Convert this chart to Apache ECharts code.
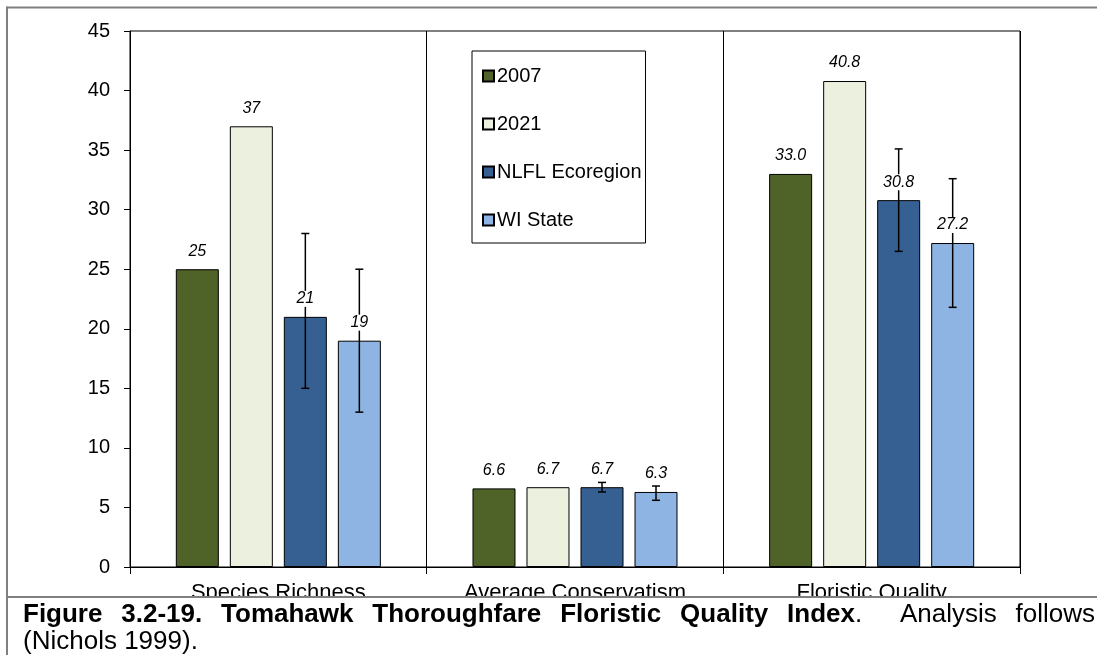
<!DOCTYPE html>
<html>
<head>
<meta charset="utf-8">
<script src="https://cdn.jsdelivr.net/npm/echarts@6/dist/echarts.min.js"></script>
<style>
  html, body { margin: 0; padding: 0; background: #fff; }
  #chart { width: 1101px; height: 655px; }
</style>
</head>
<body>
<div id="chart"></div>
<script>
// ---------- data ----------
const categories = ['Species Richness', 'Average Conservatism', 'Floristic Quality'];
const seriesNames = ['2007', '2021', 'NLFL Ecoregion', 'WI State'];
const values2007 = [25, 6.6, 33.0];
const values2021 = [37, 6.7, 40.8];
const valuesNLFL = [21, 6.7, 30.8];
const valuesWI = [19, 6.3, 27.2];
const errLowNLFL = [15, 6.3, 26.5];
const errHighNLFL = [28, 7.1, 35.1];
const errLowWI = [13, 5.6, 21.8];
const errHighWI = [25, 6.8, 32.6];
const labelDecimals = [0, 1, 1];
const yMin = 0, yMax = 45, yInterval = 5;
const captionLine1 = [
  { t: 'Figure', b: true, gap: 1 },
  { t: '3.2-19.', b: true, gap: 1 },
  { t: 'Tomahawk', b: true, gap: 1 },
  { t: 'Thoroughfare', b: true, gap: 1 },
  { t: 'Floristic', b: true, gap: 1 },
  { t: 'Quality', b: true, gap: 1 },
  { t: 'Index', b: true, gap: 0 },
  { t: '.', b: false, gap: 2 },
  { t: 'Analysis', b: false, gap: 1 },
  { t: 'follows', b: false, gap: 0 }
];
const captionLine2 = '(Nichols 1999).';

// ---------- styles ----------
const FONT = '"Liberation Sans", Arial, sans-serif';
const colors = ['#4F6228', '#EBF1DE', '#376092', '#8EB4E3'];
const BAR_W = 43;
const BAR_GAP = '25.6%';
const allValues = [values2007, values2021, valuesNLFL, valuesWI];

const chart = echarts.init(document.getElementById('chart'), null, { renderer: 'canvas' });

function barOffset(api, s) {
  try {
    const lay = api.barLayout({ count: 4, barWidth: BAR_W, barGap: BAR_GAP });
    if (lay && lay[s]) return lay[s].offsetCenter;
  } catch (e) {}
  return (s - 1.5) * (BAR_W * 1.256);
}

function errSeries(name, s, low, high) {
  return {
    type: 'custom',
    name: name,
    z: 3,
    silent: true,
    encode: { x: 0, y: [1, 2] },
    data: categories.map((c, i) => [i, low[i], high[i]]),
    renderItem: function (params, api) {
      const ci = api.value(0);
      const pH = api.coord([ci, api.value(2)]);
      const pL = api.coord([ci, api.value(1)]);
      const x = pH[0] + barOffset(api, s);
      const cap = 4;
      const st = { stroke: '#000', lineWidth: 1.5 };
      return {
        type: 'group',
        children: [
          { type: 'line', shape: { x1: x, y1: pH[1], x2: x, y2: pL[1] }, style: st },
          { type: 'line', shape: { x1: x - cap, y1: pH[1], x2: x + cap, y2: pH[1] }, style: st },
          { type: 'line', shape: { x1: x - cap, y1: pL[1], x2: x + cap, y2: pL[1] }, style: st }
        ]
      };
    }
  };
}

const labelData = [];
allValues.forEach((arr, s) => arr.forEach((v, i) => labelData.push([i, v, s])));

const series = seriesNames.map((n, s) => ({
  type: 'bar',
  name: n,
  z: 2,
  barWidth: BAR_W,
  barGap: BAR_GAP,
  itemStyle: { color: colors[s], borderColor: '#000', borderWidth: 1 },
  data: allValues[s]
}));
series.push(errSeries('errNLFL', 2, errLowNLFL, errHighNLFL));
series.push(errSeries('errWI', 3, errLowWI, errHighWI));
series.push({
  type: 'custom',
  name: 'labels',
  z: 4,
  silent: true,
  encode: { x: 0, y: 1 },
  data: labelData,
  renderItem: function (params, api) {
    const ci = api.value(0);
    const v = api.value(1);
    const s = api.value(2);
    const p = api.coord([ci, v]);
    return {
      type: 'text',
      x: p[0] + barOffset(api, s),
      y: p[1] - 10,
      style: {
        text: v.toFixed(labelDecimals[ci]),
        font: 'italic 16px ' + FONT,
        fill: '#000',
        align: 'center',
        verticalAlign: 'bottom',
        backgroundColor: '#fff',
        padding: [0, 2]
      }
    };
  }
});

// ---------- caption layout (justified) ----------
const cv = document.createElement('canvas').getContext('2d');
const capSize = 26;
const capLeft = 23, capRight = 1095;
function fontOf(b) { return (b ? 'bold ' : '') + capSize + 'px ' + FONT; }
let sumW = 0, sumGap = 0;
captionLine1.forEach(w => {
  cv.font = fontOf(w.b);
  w.w = cv.measureText(w.t).width;
  sumW += w.w;
  sumGap += w.gap;
});
const unit = (capRight - capLeft - sumW) / sumGap;
let cx = capLeft;
const captionGraphics = [];
captionLine1.forEach(w => {
  captionGraphics.push({
    type: 'text', x: cx, y: 602, z: 101,
    style: { text: w.t, font: fontOf(w.b), fill: '#000', align: 'left', verticalAlign: 'top' }
  });
  cx += w.w + w.gap * unit;
});
captionGraphics.push({
  type: 'text', x: capLeft, y: 629, z: 101,
  style: { text: captionLine2, font: fontOf(false), fill: '#000', align: 'left', verticalAlign: 'top' }
});

const option = {
  backgroundColor: '#fff',
  animation: false,
  grid: {
    left: 130, top: 31, right: 81, bottom: 88,
    show: true, borderColor: '#000', borderWidth: 1, backgroundColor: 'transparent'
  },
  legend: {
    data: seriesNames,
    orient: 'vertical',
    left: 472, top: 51,
    padding: [15, 4, 13, 10],
    itemGap: 28,
    itemWidth: 11, itemHeight: 11,
    icon: 'rect',
    borderColor: '#000', borderWidth: 1,
    backgroundColor: '#fff',
    selectedMode: false,
    textStyle: { fontFamily: FONT, fontSize: 20, color: '#000', padding: [0, 0, 0, -2] }
  },
  xAxis: {
    type: 'category',
    data: categories,
    axisLine: { lineStyle: { color: '#000', width: 1 } },
    axisTick: { show: true, length: 7, interval: 0, lineStyle: { color: '#000' } },
    splitLine: { show: true, interval: 0, lineStyle: { color: '#000', width: 1 } },
    axisLabel: { fontFamily: FONT, fontSize: 22, color: '#000', margin: 15, interval: 0 }
  },
  yAxis: {
    type: 'value',
    min: yMin, max: yMax, interval: yInterval,
    axisLine: { show: true, lineStyle: { color: '#000', width: 1 } },
    axisTick: { show: true, length: 6, lineStyle: { color: '#000' } },
    splitLine: { show: false },
    axisLabel: { fontFamily: FONT, fontSize: 20, color: '#000', margin: 20 }
  },
  graphic: [
    { type: 'rect', z: 100, shape: { x: 8, y: 598, width: 1093, height: 57 }, style: { fill: '#fff' } },
    { type: 'line', z: 102, shape: { x1: 7, y1: 7.5, x2: 1097, y2: 7.5 }, style: { stroke: '#7F7F7F', lineWidth: 2 } },
    { type: 'line', z: 102, shape: { x1: 7, y1: 6.5, x2: 7, y2: 655 }, style: { stroke: '#7F7F7F', lineWidth: 2 } },
    { type: 'line', z: 102, shape: { x1: 7, y1: 597, x2: 1097, y2: 597 }, style: { stroke: '#7F7F7F', lineWidth: 2 } }
  ].concat(captionGraphics),
  series: series
};
chart.setOption(option);
</script>
</body>
</html>
